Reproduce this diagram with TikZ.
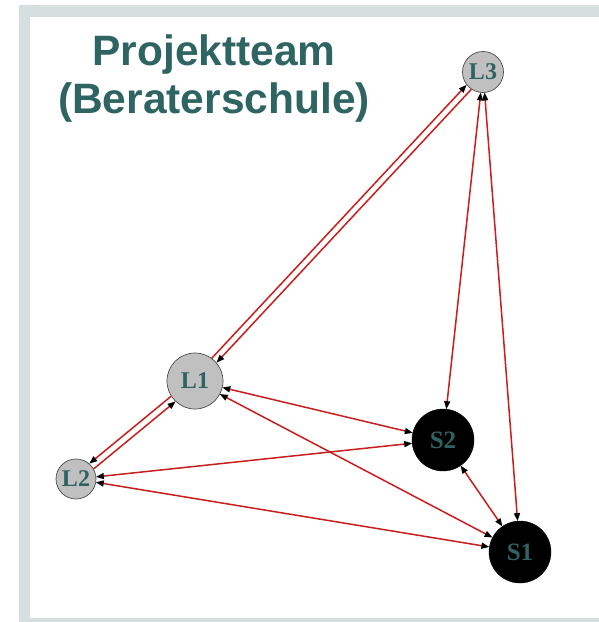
\documentclass[tikz,border=0pt]{standalone}
\usepackage{fontspec}
\setmainfont{Liberation Serif}
\newfontfamily\titlefont{Liberation Sans}
\usetikzlibrary{arrows.meta}
\definecolor{framegray}{HTML}{D5DFE0}
\definecolor{titleteal}{HTML}{2E6462}
\definecolor{labelteal}{HTML}{2F6262}
\definecolor{edgered}{HTML}{C81E1E}
\definecolor{lgray}{HTML}{C0C0C0}
\tikzset{
  lnode/.style={circle, draw=black!70, line width=0.7pt, fill=lgray, inner sep=0pt, outer sep=0pt,
     text=labelteal, font=\fontsize{24}{24}\selectfont\bfseries},
  snode/.style={circle, draw=black, fill=black, inner sep=0pt, outer sep=0pt,
     text=labelteal, font=\fontsize{25}{25}\selectfont\bfseries},
  edge/.style={draw=edgered, line width=1.5pt,
     arrows={-Triangle[length=8pt,width=6pt,color=black]}},
  bedge/.style={edge, arrows={Triangle[length=8pt,width=6pt,color=black]-Triangle[length=8pt,width=6pt,color=black]}},
  titletext/.style={text=titleteal, font=\titlefont\fontsize{42.5}{48}\selectfont\bfseries, inner sep=0pt, anchor=base}
}
\begin{document}
\begin{tikzpicture}[x=1pt,y=-1pt]
\useasboundingbox (0,0) rectangle (599,622);
\fill[framegray] (19,5) rectangle (599,622);
\fill[white] (30,17) rectangle (599,618);

\node[titletext] (t1) at (214,65) {Projektteam};
\node[titletext] (t2) at (214,113) {(Beraterschule)};

\node[lnode, minimum size=56pt] (L1) at (195,381) {L1};
\node[lnode, minimum size=40pt] (L2) at (76,479) {L2};
\node[lnode, minimum size=41pt] (L3) at (483,72) {L3};
\node[snode, minimum size=62pt] (S2) at (443,440) {S2};
\node[snode, minimum size=62pt] (S1) at (520,552) {S1};

\draw[edge, transform canvas={shift={(-2.4,-2.2)}}] (L1) -- (L3);
\draw[edge, transform canvas={shift={(2.4,2.2)}}] (L3) -- (L1);
\draw[edge, transform canvas={shift={(-2.2,-2.6)}}] (L1) -- (L2);
\draw[edge, transform canvas={shift={(2.2,2.6)}}] (L2) -- (L1);

\draw[bedge] (L3) -- (S2);
\draw[bedge] (L3) -- (S1);
\draw[bedge] (L1) -- (S2);
\draw[bedge] (L1) -- (S1);
\draw[bedge] (L2) -- (S2);
\draw[bedge] (L2) -- (S1);
\draw[bedge] (S2) -- (S1);
\end{tikzpicture}
\end{document}
